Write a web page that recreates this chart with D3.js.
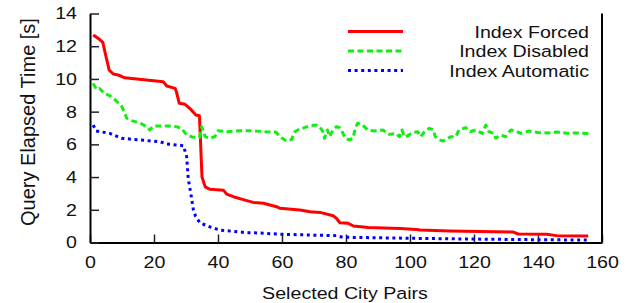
<!DOCTYPE html>
<html lang="en">
<head>
    <meta charset="UTF-8">
    <title>Query Elapsed Time by Selected City Pairs</title>
    <script src="https://d3js.org/d3.v7.min.js"></script>
    <style>
        body { margin: 0; background: #fff; }
        svg text { font-family: "Liberation Sans", Arial, sans-serif; fill: #111; }
    </style>
</head>
<body>
    <svg width="629" height="303"></svg>
    <script>
        // values: [city pair index, seconds]
        const indexForced = [
            [1,12.68],[2.6,12.48],[4,12.24],[5,11.36],[6,10.54],[7.3,10.3],[8.8,10.24],[10.9,10.07],
            [14.6,9.99],[22.9,9.83],[24,9.57],[26.6,9.42],[27,9.22],[27.9,8.51],[29.7,8.45],[31.2,8.2],
            [33.1,7.79],[34.2,7.75],[35,4.0],[36,3.4],[37.5,3.25],[41.7,3.2],[42.7,2.96],[44.8,2.8],
            [47.9,2.62],[51,2.45],[54.2,2.4],[58.3,2.19],[59.4,2.09],[65.6,1.99],[68.8,1.88],[71.9,1.84],
            [76,1.64],[77,1.48],[78.1,1.21],[80.7,1.17],[82.3,1.01],[87,0.91],[96.9,0.85],[102.1,0.8],
            [103.1,0.76],[112.5,0.7],[132.3,0.64],[133.8,0.52],[142.7,0.5],[145.8,0.42],[155.7,0.4]
        ];
        const indexDisabled = [
            [1,9.73],[2,9.36],[3,9.42],[4.4,9.12],[6,9.0],[8,8.7],[10,8.3],[11.5,7.6],[13,7.45],
            [15.5,7.32],[17.7,7.08],[18.7,6.88],[19.8,7.12],[23,7.12],[25,7.12],[27,7.08],[28.6,6.98],
            [30.2,6.57],[32.3,6.43],[34.2,6.43],[34.9,7.08],[36,6.47],[37.5,6.37],[39,6.47],[40,6.83],
            [42.7,6.77],[47,6.83],[51,6.83],[55,6.77],[58,6.75],[59.9,6.4],[61.4,6.2],[63,6.3],[64,6.77],
            [65.5,6.94],[67,7.02],[68.7,7.14],[70.7,7.18],[71.8,7.08],[72.8,6.77],[73.3,6.37],[74.2,6.88],
            [74.9,6.47],[75.9,6.88],[77,7.08],[78,7.02],[78.8,6.77],[79.8,6.37],[81.1,6.27],[82.2,6.37],
            [82.9,6.98],[83.6,7.29],[85.2,7.18],[86.8,6.88],[88.8,6.82],[91.5,6.88],[93.5,6.61],[95.6,6.67],
            [96.7,6.47],[97.5,6.88],[98.2,6.47],[99.3,6.53],[100.9,6.73],[102.4,6.77],[103.4,6.47],
            [104.5,6.77],[106,6.98],[107.3,6.88],[107.9,6.47],[109.2,6.27],[110.4,6.2],[111.1,6.27],
            [112.7,6.47],[114.3,6.47],[115.3,6.88],[117.4,7.02],[118.8,6.77],[120.5,6.88],[122.6,6.67],
            [123.7,7.18],[124.7,6.77],[126.3,6.67],[126.8,6.37],[128.3,6.57],[129.9,6.47],[131.5,6.88],
            [133,6.82],[134.6,6.67],[137.2,6.82],[140,6.72],[143,6.7],[146,6.75],[149,6.68],[152,6.7],[155.7,6.67]
        ];
        const indexAutomatic = [
            [1,7.18],[1.9,6.82],[6.2,6.67],[9.9,6.37],[15.6,6.27],[21.9,6.16],[24,6.02],[29.2,5.92],
            [30.2,5.25],[30.7,3.9],[31.5,3.0],[32.3,2.0],[33,1.6],[34.4,1.2],[37.5,0.95],[40.6,0.76],
            [42.7,0.72],[49,0.6],[51,0.6],[60,0.5],[70,0.45],[77,0.42],[79,0.32],[99.5,0.26],
            [119.8,0.21],[139.6,0.17],[155.7,0.15]
        ];
        const seriesNames = ["Index Forced", "Index Disabled", "Index Automatic"];
        const xTicks = [0, 20, 40, 60, 80, 100, 120, 140, 160];
        const yTicks = [0, 2, 4, 6, 8, 10, 12, 14];

        const styles = [
            { color: "#ff0000", dash: null },
            { color: "#11ee11", dash: "6,3.5" },
            { color: "#0000ff", dash: "3,3.6" }
        ];

        // the original font is wide and short, so stretch text sideways
        const fontSize = 17;
        const stretch = 1.155;

        const margin = { top: 13.5, right: 27, bottom: 60.5, left: 90 };
        const width = 629 - margin.left - margin.right;
        const height = 303 - margin.top - margin.bottom;

        const svg = d3.select("svg")
          .append("g")
            .attr("transform", `translate(${margin.left},${margin.top})`);

        const x = d3.scaleLinear().domain([0, 160]).range([0, width]);
        const y = d3.scaleLinear().domain([0, 14]).range([height, 0]);

        // axes, ticks pointing inward
        const xAxis = svg.append("g")
            .attr("transform", `translate(0,${height})`)
            .call(d3.axisBottom(x).tickValues(xTicks).tickSizeInner(-8).tickSizeOuter(0).tickPadding(13));
        const yAxis = svg.append("g")
            .call(d3.axisLeft(y).tickValues(yTicks).tickSizeInner(-9).tickSizeOuter(0).tickPadding(13 / stretch));

        [xAxis, yAxis].forEach(a => {
            a.select(".domain").attr("stroke", "#000").attr("stroke-width", 2);
            a.selectAll(".tick line").attr("stroke", "#222").attr("stroke-width", 1.5);
            a.selectAll(".tick text")
                .attr("font-size", fontSize)
                .attr("font-family", null)
                .attr("fill", "#111")
                .attr("transform", `scale(${stretch},1)`);
        });

        // right border
        svg.append("line")
            .attr("x1", width).attr("x2", width)
            .attr("y1", 0).attr("y2", height)
            .attr("stroke", "#000").attr("stroke-width", 2);

        // axis labels
        svg.append("text")
            .attr("transform", `translate(${width / 2 - 1},${height + 56}) scale(${stretch},1)`)
            .attr("text-anchor", "middle")
            .attr("font-size", fontSize)
            .text("Selected City Pairs");

        svg.append("text")
            .attr("transform", `translate(${-margin.left + 35},${height / 2 - 6}) rotate(-90)`)
            .attr("text-anchor", "middle")
            .attr("font-size", 20)
            .text("Query Elapsed Time [s]");

        // lines
        const line = d3.line()
            .x(d => x(d[0]))
            .y(d => y(d[1]));

        [indexForced, indexDisabled, indexAutomatic].forEach((data, i) => {
            svg.append("path")
                .datum(data)
                .attr("fill", "none")
                .attr("stroke", styles[i].color)
                .attr("stroke-width", 3)
                .attr("stroke-linejoin", "round")
                .attr("stroke-dasharray", styles[i].dash)
                .attr("d", line);
        });

        // legend
        const legend = svg.append("g")
            .attr("transform", `translate(${width - 13},18)`);
        seriesNames.forEach((name, i) => {
            const row = legend.append("g").attr("transform", `translate(0,${i * 19.5})`);
            row.append("line")
                .attr("x1", -241).attr("x2", -186)
                .attr("y1", 0).attr("y2", 0)
                .attr("stroke", styles[i].color)
                .attr("stroke-width", 3)
                .attr("stroke-dasharray", styles[i].dash);
            row.append("text")
                .attr("transform", `scale(${stretch},1)`)
                .attr("dy", "0.36em")
                .attr("text-anchor", "end")
                .attr("font-size", fontSize)
                .text(name);
        });
    </script>
</body>
</html>
